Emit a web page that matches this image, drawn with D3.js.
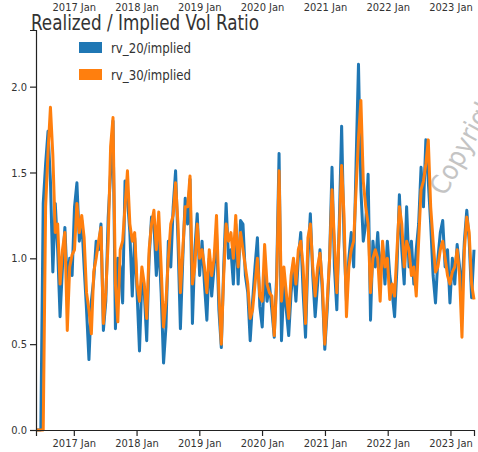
<!DOCTYPE html>
<html>
<head>
<meta charset="utf-8">
<script src="https://cdn.jsdelivr.net/npm/d3@7"></script>
<style>
  body { margin: 0; background: #fff; }
  text { font-family: "Liberation Sans Narrow", "DejaVu Sans Condensed", sans-serif; font-stretch: condensed; }
</style>
</head>
<body>
<div id="chart"></div>
<script>
// series, one value every two weeks starting late May 2016
const startDate = new Date(2016, 4, 26);
const stepDays = 14;

const rv20 = [
  0, 0, 0, 1.32, 1.55, 1.74, 1.45, 0.92, 1.32, 1.05,
  0.66, 0.95, 1.18, 0.85, 1.00, 0.90, 1.30, 1.44, 1.10, 1.22,
  0.95, 0.70, 0.41, 0.75, 0.88, 1.10, 1.05, 1.20, 0.58, 0.75,
  1.24, 1.50, 1.80, 0.59, 1.00, 0.95, 0.74, 1.45, 1.35, 1.15,
  0.78, 1.12, 0.80, 0.46, 0.88, 0.80, 0.52, 1.00, 1.24, 1.20,
  0.90, 1.10, 0.80, 0.39, 0.60, 1.10, 0.95, 1.30, 1.51, 1.10,
  0.59, 1.00, 1.35, 1.20, 1.46, 0.62, 1.05, 1.26, 0.90, 1.10,
  0.85, 0.64, 1.00, 0.78, 0.95, 1.15, 0.70, 0.48, 0.95, 1.32,
  1.00, 1.05, 0.85, 1.20, 0.85, 1.22, 1.20, 0.90, 0.80, 0.52,
  0.75, 0.95, 1.12, 0.72, 0.60, 0.95, 0.75, 0.85, 0.70, 0.54,
  0.90, 1.61, 0.52, 0.85, 0.70, 0.55, 0.80, 0.95, 0.75, 1.00,
  1.15, 0.80, 0.54, 1.00, 1.26, 0.90, 0.66, 0.85, 1.05, 0.80,
  0.47, 0.70, 1.00, 1.53, 0.95, 0.70, 1.20, 1.77, 1.10, 0.75,
  1.00, 1.15, 0.95, 1.55, 2.13, 1.40, 1.10, 1.20, 1.49, 0.64,
  1.10, 0.95, 1.15, 0.90, 1.05, 0.85, 1.10, 0.90, 0.80, 0.66,
  0.95, 1.37, 1.05, 0.85, 1.30, 0.95, 1.10, 0.85, 1.05, 1.20,
  1.53, 1.30, 1.69, 1.45, 1.20, 0.90, 0.74, 1.00, 1.15, 1.22,
  0.95, 1.05, 0.74, 1.00, 0.85, 1.08, 0.95, 0.80, 1.10, 1.28,
  1.10, 0.77, 1.05
];

const rv30 = [
  0, 0, 0, 0, 1.30, 1.62, 1.88, 1.60, 1.15, 1.20,
  0.85, 1.05, 1.15, 0.58, 0.95, 1.02, 1.05, 1.32, 1.15, 1.25,
  1.12, 0.80, 0.70, 0.56, 0.92, 1.00, 1.10, 1.18, 0.62, 0.80,
  1.10, 1.65, 1.82, 0.85, 0.63, 1.05, 1.10, 1.30, 1.51, 1.20,
  1.10, 1.15, 0.85, 0.75, 0.95, 0.85, 0.65, 1.05, 1.20, 1.28,
  1.05, 1.27, 0.95, 0.60, 0.75, 1.00, 1.20, 1.25, 1.44, 1.20,
  0.80, 1.05, 1.30, 1.30, 1.48, 0.85, 0.95, 1.20, 1.00, 1.05,
  0.95, 0.80, 1.05, 0.90, 1.00, 1.25, 0.80, 0.50, 0.90, 1.20,
  1.10, 1.15, 1.00, 1.25, 0.95, 1.15, 1.05, 0.95, 0.85, 0.65,
  0.70, 0.85, 1.00, 0.78, 0.75, 1.08, 0.85, 0.80, 0.78, 0.55,
  0.85, 1.51, 0.75, 0.95, 0.80, 0.65, 0.90, 1.00, 0.85, 1.05,
  1.10, 0.95, 0.62, 1.12, 1.20, 0.95, 0.78, 0.95, 1.03, 0.85,
  0.50, 0.75, 1.00, 1.40, 1.10, 0.80, 1.15, 1.54, 1.25, 0.66,
  0.95, 1.05, 1.10, 1.40, 1.70, 1.92, 1.45, 1.30, 1.20, 0.80,
  1.00, 1.05, 1.00, 0.75, 1.10, 0.95, 1.00, 0.76, 0.85, 0.78,
  1.05, 1.30, 1.20, 0.95, 1.10, 1.05, 0.90, 0.95, 0.78, 1.10,
  1.40, 1.45, 1.55, 1.69, 1.30, 1.10, 0.92, 0.95, 1.05, 1.10,
  1.00, 0.90, 0.85, 0.92, 0.95, 1.05, 0.90, 0.54, 1.05, 1.24,
  1.15, 0.85, 0.76
];

const seriesNames = ["rv_20/implied", "rv_30/implied"];
const seriesColors = ["#1f77b4", "#ff7f0e"];
const yTicks = [0, 0.5, 1.0, 1.5, 2.0];
const yMax = 2.33;

const dates = rv20.map((_, i) => d3.timeDay.offset(startDate, i * stepDays));

const width = 478, height = 452;
const margin = {top: 30, right: 4, bottom: 22, left: 36};

const svg = d3.select('#chart')
  .append('svg')
  .attr('width', width)
  .attr('height', height);

const x = d3.scaleTime()
  .domain(d3.extent(dates))
  .range([margin.left, width - margin.right]);

const y = d3.scaleLinear()
  .domain([0, yMax])
  .range([height - margin.bottom, margin.top]);

const tickFmt = d3.timeFormat('%Y %b');
const yearTicks = d3.timeYear.range(new Date(2017, 0, 1), new Date(2024, 0, 1));

// watermark (behind the lines)
svg.append('text')
  .attr('transform', 'translate(445,197) rotate(-61)')
  .attr('font-size', 27)
  .attr('fill', '#c4c4c4')
  .attr('font-family', '"Open Sans", sans-serif')
  .attr('font-stretch', 'normal')
  .text('Copyright');

// lines
const line = d3.line()
  .x((d, i) => x(dates[i]))
  .y(d => y(d));

[rv20, rv30].forEach((vals, k) => {
  svg.append('path')
    .datum(vals)
    .attr('fill', 'none')
    .attr('stroke', seriesColors[k])
    .attr('stroke-width', 3)
    .attr('stroke-linejoin', 'round')
    .attr('d', line);
});

// axes
const xAxis = svg.append('g')
  .attr('transform', `translate(0,${height - margin.bottom})`)
  .call(d3.axisBottom(x).tickValues(yearTicks).tickFormat(tickFmt).tickSize(6).tickPadding(3));

const xTop = svg.append('g')
  .attr('transform', 'translate(0,12)')
  .call(d3.axisTop(x).tickValues(yearTicks).tickFormat(tickFmt).tickSize(0).tickPadding(1));
xTop.select('.domain').remove();

const yAxis = svg.append('g')
  .attr('transform', `translate(${margin.left},0)`)
  .call(d3.axisLeft(y).tickValues(yTicks).tickFormat(d3.format('.1f')).tickSize(6).tickPadding(3));

[xAxis, xTop, yAxis].forEach(g => {
  g.selectAll('text').attr('font-size', 11).attr('fill', '#333')
    .attr('font-family', '"Liberation Sans Narrow", "DejaVu Sans Condensed", sans-serif');
  g.selectAll('.domain, line').attr('stroke', '#222').attr('stroke-width', 1.2);
});

// title
svg.append('text')
  .attr('x', 31)
  .attr('y', 30)
  .attr('font-size', 22)
  .attr('fill', '#333')
  .attr('textLength', 228)
  .attr('lengthAdjust', 'spacingAndGlyphs')
  .text('Realized / Implied Vol Ratio');

// legend
const legend = svg.append('g');
seriesNames.forEach((name, k) => {
  legend.append('rect')
    .attr('x', 79)
    .attr('y', 42 + k * 27)
    .attr('width', 23)
    .attr('height', 11)
    .attr('fill', seriesColors[k]);
  legend.append('text')
    .attr('x', 111)
    .attr('y', 53 + k * 27)
    .attr('font-size', 14)
    .attr('fill', '#333')
    .attr('textLength', 80)
    .attr('lengthAdjust', 'spacingAndGlyphs')
    .text(name);
});
</script>
</body>
</html>
